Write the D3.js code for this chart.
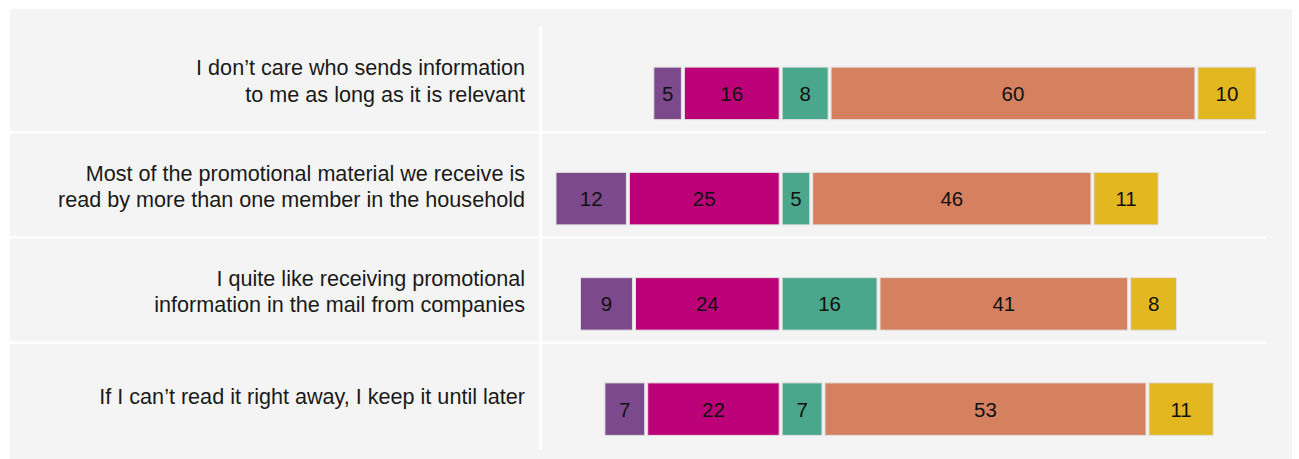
<!DOCTYPE html>
<html>
<head>
<meta charset="utf-8">
<script src="https://cdn.jsdelivr.net/npm/d3@7"></script>
<style>
  html, body { margin: 0; padding: 0; background: #ffffff; }
  svg { display: block; font-family: "Liberation Sans", Arial, Helvetica, sans-serif; }
</style>
</head>
<body>
<svg id="chart" width="1299" height="459"></svg>
<script>
// Statements (line breaks mark where each label wraps)
const categories = [
  "I don\u2019t care who sends information\nto me as long as it is relevant",
  "Most of the promotional material we receive is\nread by more than one member in the household",
  "I quite like receiving promotional\ninformation in the mail from companies",
  "If I can\u2019t read it right away, I keep it until later"
];

// Response shares (%), left of the centre line: outer then inner
const leftOuter   = [5, 12, 9, 7];
const leftInner   = [16, 25, 24, 22];
// Right of the centre line: inner, middle, outer
const rightInner  = [8, 5, 16, 7];
const rightMiddle = [60, 46, 41, 53];
const rightOuter  = [10, 11, 8, 11];

const seriesColors = ["#7c4a8c", "#bc0077", "#4aa78b", "#d5815f", "#e3b720"];

const W = 1299, H = 459;
const svg = d3.select("#chart");

// Panel background
svg.append("rect")
  .attr("x", 10).attr("y", 9)
  .attr("width", 1282).attr("height", H - 9)
  .attr("fill", "#f4f4f4");

// Build stacked segments, diverging around zero
const segments = [];
categories.forEach((c, i) => {
  const li = leftInner[i], lo = leftOuter[i];
  segments.push({ cat: c, s: -(li + lo), e: -li, v: lo, k: 0 });
  segments.push({ cat: c, s: -li, e: 0, v: li, k: 1 });
  let acc = 0;
  [rightInner[i], rightMiddle[i], rightOuter[i]].forEach((v, j) => {
    segments.push({ cat: c, s: acc, e: acc + v, v: v, k: j + 2 });
    acc += v;
  });
});

const leftMax = d3.max(categories, (c, i) => leftInner[i] + leftOuter[i]);
const rightMax = d3.max(categories, (c, i) => rightInner[i] + rightMiddle[i] + rightOuter[i]);

const x = d3.scaleLinear().domain([-leftMax, rightMax]).range([554.5, 1257.5]);
const y = d3.scaleBand().domain(categories).range([27, 448]).paddingInner(0).paddingOuter(0);

const barH = 52.5;
const barOffset = 13.75;
const mid = c => y(c) + y.bandwidth() / 2;

// Row separators
svg.append("g").selectAll("line")
  .data(categories.slice(1))
  .join("line")
  .attr("x1", 10).attr("x2", 1266)
  .attr("y1", c => y(c)).attr("y2", c => y(c))
  .attr("stroke", "#ffffff").attr("stroke-width", 2.5);

// Divider between labels and bars
svg.append("line")
  .attr("x1", 540.5).attr("x2", 540.5)
  .attr("y1", 27).attr("y2", 450)
  .attr("stroke", "#ffffff").attr("stroke-width", 3);

// Statement labels
const labels = svg.append("g")
  .attr("font-size", 21.6)
  .attr("fill", "#1a1a1a")
  .attr("text-anchor", "end");

categories.forEach(c => {
  const lines = c.split("\n");
  const lh = 26.5;
  const first = mid(c) + 9 - (lines.length - 1) * lh / 2;
  const t = labels.append("text").attr("x", 525).attr("y", first);
  lines.forEach((ln, j) => {
    t.append("tspan").attr("x", 525).attr("y", first + j * lh).text(ln);
  });
});

// Bars
const bars = svg.append("g");
bars.selectAll("rect")
  .data(segments)
  .join("rect")
  .attr("x", d => x(d.s) + 1.5)
  .attr("width", d => x(d.e) - x(d.s) - 3)
  .attr("y", d => mid(d.cat) + barOffset - barH / 2)
  .attr("height", barH)
  .attr("fill", d => seriesColors[d.k])
  .attr("stroke", "#e2e0e0")
  .attr("stroke-width", 1);

// Value labels
bars.selectAll("text")
  .data(segments)
  .join("text")
  .attr("x", d => (x(d.s) + x(d.e)) / 2)
  .attr("y", d => mid(d.cat) + barOffset)
  .attr("dy", "0.36em")
  .attr("text-anchor", "middle")
  .attr("font-size", 20.5)
  .attr("fill", "#111111")
  .text(d => d.v);
</script>
</body>
</html>
